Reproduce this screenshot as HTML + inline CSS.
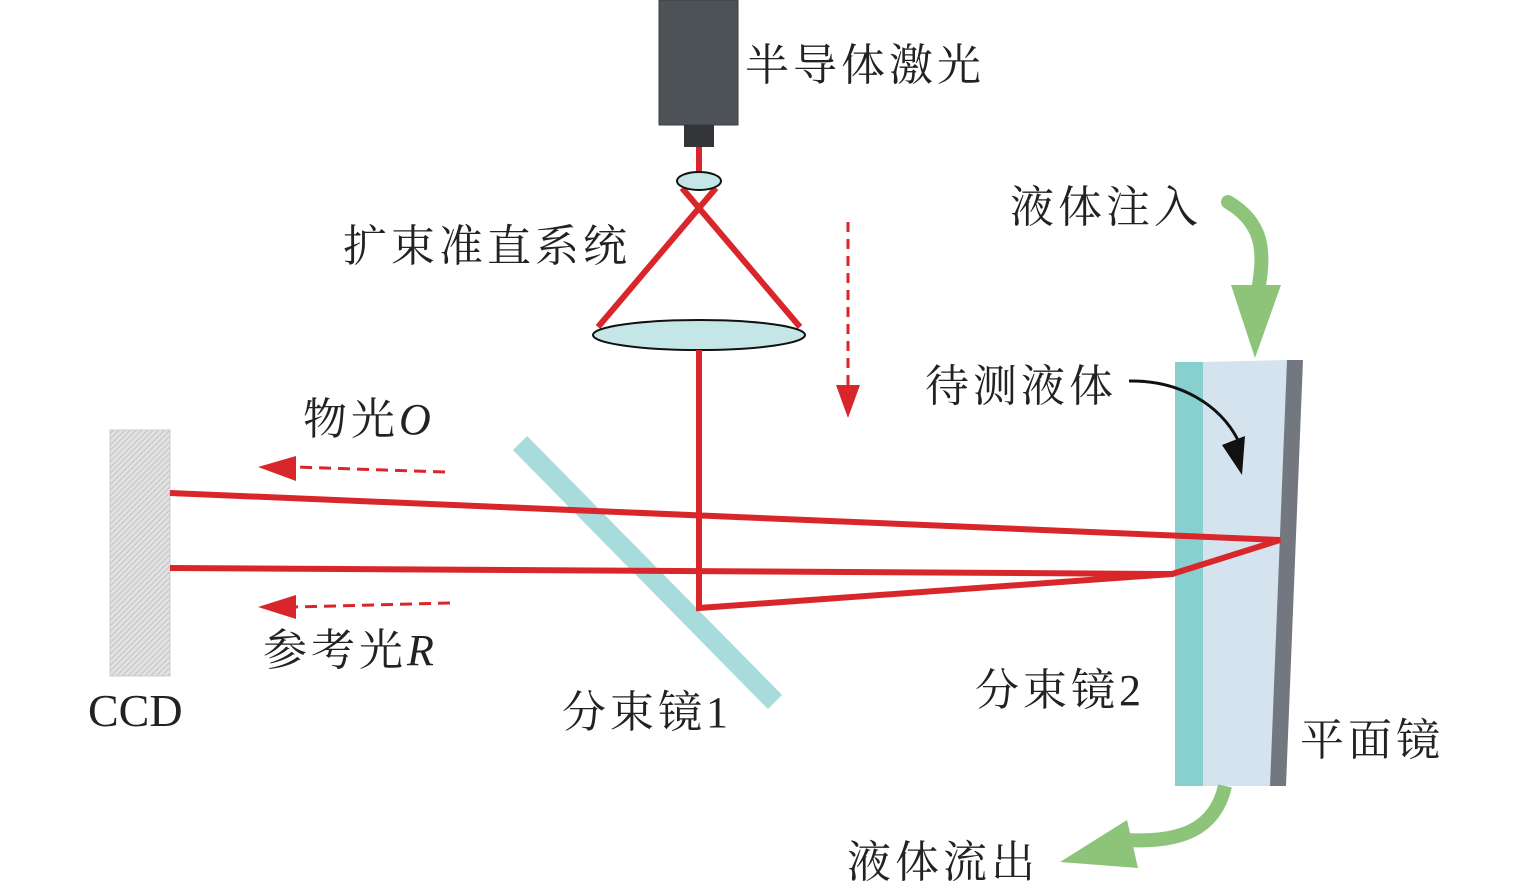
<!DOCTYPE html>
<html><head><meta charset="utf-8"><style>
html,body{margin:0;padding:0;background:#fff;}
svg{display:block;}
text{font-family:"Liberation Serif","Noto Serif CJK SC","Noto Sans CJK SC",serif;font-size:44px;fill:#222;letter-spacing:4px;}
text.lat{letter-spacing:0;font-size:46px;}
</style></head><body>
<svg width="1535" height="891" viewBox="0 0 1535 891" xmlns="http://www.w3.org/2000/svg">
<defs>
<pattern id="hatch" width="4" height="4" patternUnits="userSpaceOnUse" patternTransform="rotate(45)">
<rect width="4" height="4" fill="#e2e2e2"/><line x1="0" y1="0" x2="0" y2="4" stroke="#b8b8b8" stroke-width="1.5"/>
</pattern>
</defs>
<!-- laser -->
<rect x="659" y="0" width="79" height="125" fill="#4d5257" stroke="#3a3e42" stroke-width="1"/>
<rect x="684" y="125" width="30" height="22" fill="#333539"/>
<line x1="699" y1="147" x2="699" y2="174" stroke="#d9262b" stroke-width="6"/>
<!-- expander beams -->
<line x1="682" y1="188" x2="800" y2="327" stroke="#d9262b" stroke-width="6"/>
<line x1="716" y1="188" x2="598" y2="327" stroke="#d9262b" stroke-width="6"/>
<ellipse cx="699" cy="181" rx="22" ry="9" fill="#c4e6e6" stroke="#111" stroke-width="2"/>
<ellipse cx="699" cy="335" rx="106" ry="15" fill="#c4e6e6" stroke="#111" stroke-width="2"/>
<!-- beam splitter 1 -->
<line x1="520" y1="443" x2="775" y2="702" stroke="#a8dcdc" stroke-width="20"/>
<!-- CCD -->
<rect x="110" y="430" width="60" height="246" fill="url(#hatch)" stroke="#ccc" stroke-width="1"/>
<!-- cell -->
<rect x="1175" y="362" width="28" height="424" fill="#88cfd0"/>
<polygon points="1203,362 1288,360 1271,786 1203,786" fill="#d4e3ee"/>
<polygon points="1287,360 1303,360 1286,786 1270,786" fill="#737880"/>
<!-- beams -->
<polyline points="699,350 699,608 1172,574 1280,540 170,493" fill="none" stroke="#d9262b" stroke-width="6" stroke-linejoin="miter"/>
<line x1="170" y1="568" x2="1174" y2="574" stroke="#d9262b" stroke-width="6"/>
<!-- dashed arrows -->
<line x1="848" y1="222" x2="848" y2="388" stroke="#d9262b" stroke-width="3" stroke-dasharray="10,7"/>
<polygon points="836,385 860,385 848,418" fill="#d9262b"/>
<line x1="445" y1="472" x2="295" y2="467" stroke="#d9262b" stroke-width="3" stroke-dasharray="12,7"/>
<polygon points="296,456 296,481 258,467" fill="#d9262b"/>
<line x1="450" y1="603" x2="295" y2="607" stroke="#d9262b" stroke-width="3" stroke-dasharray="12,7"/>
<polygon points="296,595 296,619 258,607" fill="#d9262b"/>
<!-- green arrows -->
<path d="M1228,202 C1262,222 1266,250 1258,290" fill="none" stroke="#8dc47a" stroke-width="14" stroke-linecap="round"/>
<polygon points="1231,285 1281,285 1255,358" fill="#8dc47a"/>
<path d="M1225,786 C1215,830 1180,843 1125,840" fill="none" stroke="#8dc47a" stroke-width="14"/>
<polygon points="1060,862 1127,820 1138,868" fill="#8dc47a"/>
<!-- black arrow -->
<path d="M1129,381 C1180,380 1220,405 1238,440" fill="none" stroke="#111" stroke-width="3"/>
<polygon points="1222,445 1245,436 1242,475" fill="#111"/>
<!-- labels -->
<text x="745" y="80">半导体激光</text>
<text x="343" y="261">扩束准直系统</text>
<text x="1010" y="222">液体注入</text>
<text x="925" y="401">待测液体</text>
<text x="303" y="434">物光<tspan font-style="italic">O</tspan></text>
<text x="263" y="665">参考光<tspan font-style="italic">R</tspan></text>
<text class="lat" x="88" y="726">CCD</text>
<text x="562" y="727">分束镜1</text>
<text x="975" y="705">分束镜2</text>
<text x="1300" y="755">平面镜</text>
<text x="847" y="877">液体流出</text>
</svg>
</body></html>
